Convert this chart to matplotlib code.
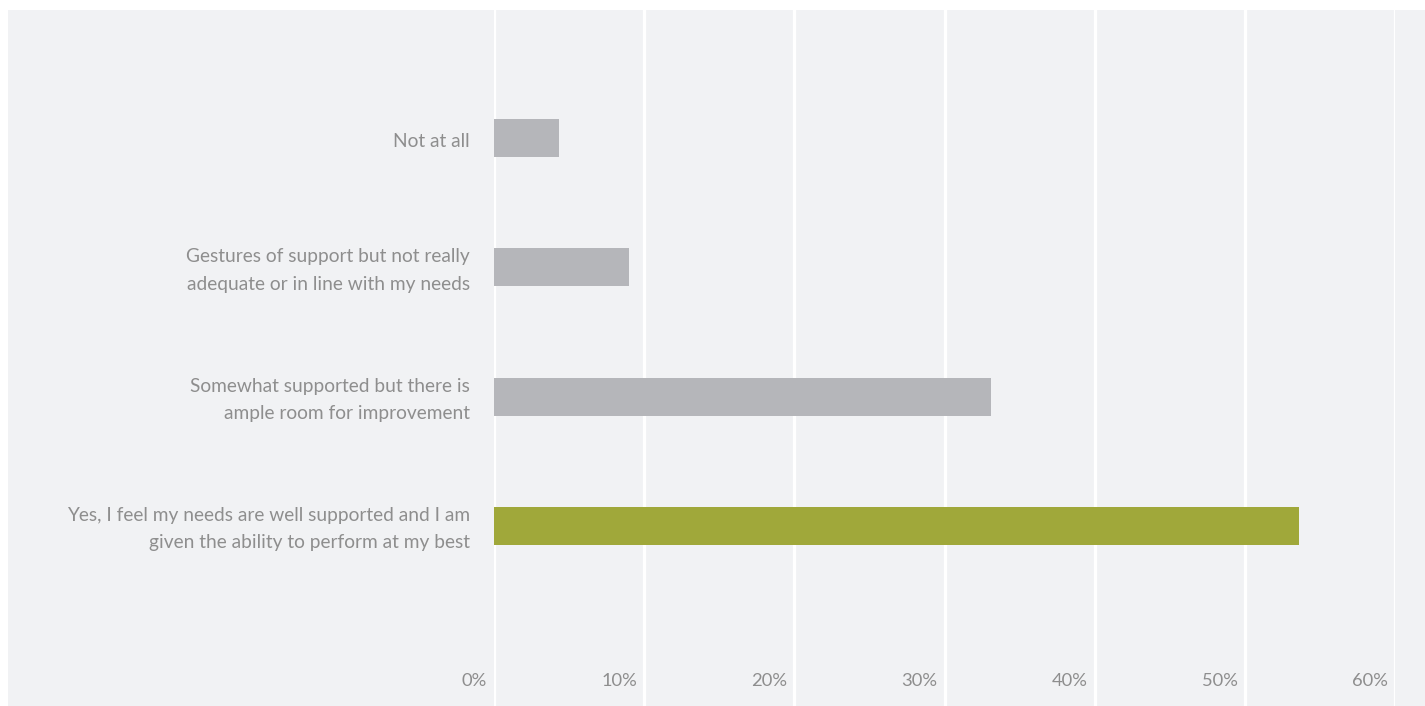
import matplotlib.pyplot as plt
from matplotlib.patches import Rectangle
from matplotlib.transforms import blended_transform_factory, offset_copy

plt.rcParams['font.family'] = ['Lato', 'DejaVu Sans']

labels = ["Not at all",
          "Gestures of support but not really\nadequate or in line with my needs",
          "Somewhat supported but there is\nample room for improvement",
          "Yes, I feel my needs are well supported and I am\ngiven the ability to perform at my best"]
values = [4.3, 9.0, 33.1, 53.6]
colors = ["#b5b6ba", "#b5b6ba", "#b5b6ba", "#a0a83a"]
xticks = [0, 10, 20, 30, 40, 50, 60]

W, H = 1425, 706
fig = plt.figure(figsize=(W / 100, H / 100), dpi=100)
fig.patch.set_facecolor('white')
# grey panel behind the chart
fig.patches.append(Rectangle((8 / W, 0), 1 - 8 / W, 1 - 10 / H, transform=fig.transFigure,
                             facecolor='#f1f2f4', edgecolor='none', zorder=-10))

ax = fig.add_axes([494 / W, 0, (1395 - 494) / W, 1 - 10 / H])
ax.patch.set_alpha(0)

y = list(range(len(labels)))
ax.barh(y, values, height=0.294, color=colors, zorder=3)

ax.set_xlim(0, 60)
ax.set_ylim(4.39, -0.99)
for t in xticks:
    ax.axvline(t, color='white', lw=2.3, zorder=1)

for s in ax.spines.values():
    s.set_visible(False)
ax.set_xticks([])
ax.set_yticks([])

# x tick labels sit inside the plot, left of their gridline
tr = offset_copy(blended_transform_factory(ax.transData, ax.transAxes), fig=fig, x=-7, y=0, units='dots')
for t in xticks:
    ax.text(t, 25 / 696, f"{t}%", transform=tr, ha='right', va='center',
            fontsize=13.2, color='#8e8e8e')

# category labels
tr2 = offset_copy(ax.transData, fig=fig, x=-24, y=-3, units='dots')
for yi, lab in zip(y, labels):
    ax.text(0, yi, lab, transform=tr2, ha='right', va='center', fontsize=13.8,
            color='#8e8e8e', linespacing=1.75)

plt.savefig('out.png', dpi=100, facecolor=fig.get_facecolor())
